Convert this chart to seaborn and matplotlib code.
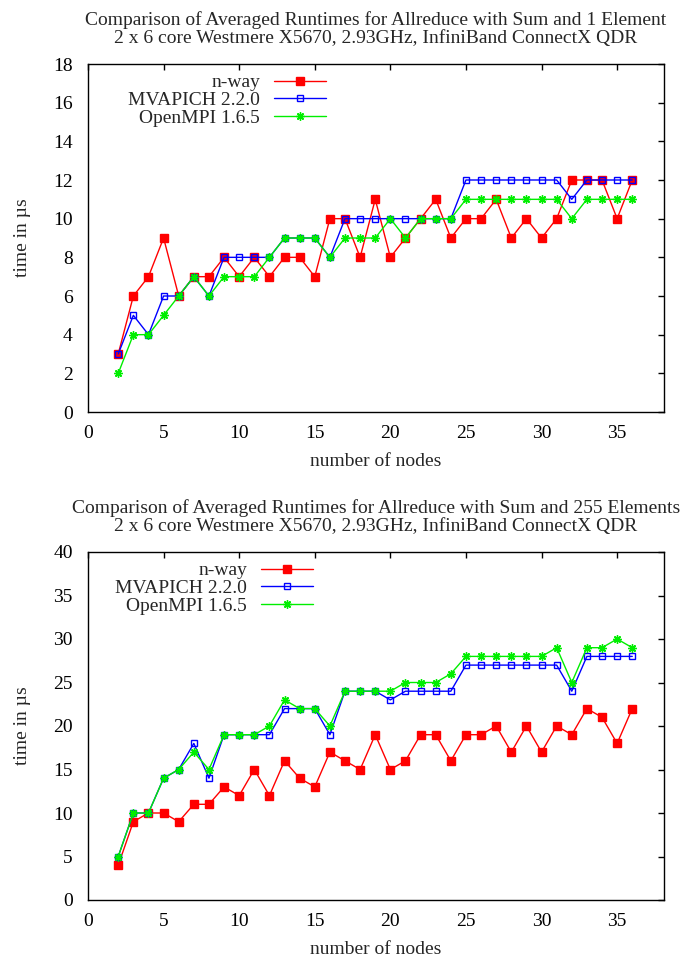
import numpy as np
import pandas as pd
import matplotlib
matplotlib.use("Agg")
import matplotlib.pyplot as plt
import seaborn as sns

nodes = list(range(2, 37))

# 1 element
nway_1 = [3, 6, 7, 9, 6, 7, 7, 8, 7, 8, 7, 8, 8, 7, 10, 10, 8, 11, 8, 9, 10, 11, 9, 10, 10, 11, 9, 10, 9, 10, 12, 12, 12, 10, 12]
mvapich_1 = [3, 5, 4, 6, 6, 7, 6, 8, 8, 8, 8, 9, 9, 9, 8, 10, 10, 10, 10, 10, 10, 10, 10, 12, 12, 12, 12, 12, 12, 12, 11, 12, 12, 12, 12]
openmpi_1 = [2, 4, 4, 5, 6, 7, 6, 7, 7, 7, 8, 9, 9, 9, 8, 9, 9, 9, 10, 9, 10, 10, 10, 11, 11, 11, 11, 11, 11, 11, 10, 11, 11, 11, 11]

# 255 elements
nway_255 = [4, 9, 10, 10, 9, 11, 11, 13, 12, 15, 12, 16, 14, 13, 17, 16, 15, 19, 15, 16, 19, 19, 16, 19, 19, 20, 17, 20, 17, 20, 19, 22, 21, 18, 22]
mvapich_255 = [5, 10, 10, 14, 15, 18, 14, 19, 19, 19, 19, 22, 22, 22, 19, 24, 24, 24, 23, 24, 24, 24, 24, 27, 27, 27, 27, 27, 27, 27, 24, 28, 28, 28, 28]
openmpi_255 = [5, 10, 10, 14, 15, 17, 15, 19, 19, 19, 20, 23, 22, 22, 20, 24, 24, 24, 24, 25, 25, 25, 26, 28, 28, 28, 28, 28, 28, 29, 25, 29, 29, 30, 29]

series_names = ["n-way", "MVAPICH 2.2.0", "OpenMPI 1.6.5"]
titles = [
    "Comparison of Averaged Runtimes for Allreduce with Sum and 1 Element\n2 x 6 core Westmere X5670, 2.93GHz, InfiniBand ConnectX QDR",
    "Comparison of Averaged Runtimes for Allreduce with Sum and 255 Elements\n2 x 6 core Westmere X5670, 2.93GHz, InfiniBand ConnectX QDR",
]
y_ticks_top = list(range(0, 19, 2))
y_ticks_bottom = list(range(0, 41, 5))
x_ticks = list(range(0, 36, 5))

sns.set_theme(style="white")
plt.rcParams["font.family"] = ["Liberation Serif", "DejaVu Serif"]

FS = 14
colors = ["#ff0000", "#0000ff", "#00ee00"]
markers = ["s", "s", (8, 2, 0)]
mfc = ["#ff0000", "none", "#00ee00"]
msz = [5.5, 5.0, 6.0]

fig = plt.figure(figsize=(6.8, 9.56), dpi=100)
ax1 = fig.add_axes([88/680, 1-412/956, 576/680, 348/956])
ax2 = fig.add_axes([88/680, 1-900/956, 576/680, 348/956])

def draw(ax, data, yticks, ylim, title, leg_x):
    df = pd.DataFrame({"nodes": nodes * 3,
                       "time": sum(data, []),
                       "impl": sum([[n] * len(nodes) for n in series_names], [])})
    for i, name in enumerate(series_names):
        sub = df[df["impl"] == name]
        sns.lineplot(data=sub, x="nodes", y="time", ax=ax, color=colors[i],
                     marker=markers[i], markersize=msz[i], markerfacecolor=mfc[i],
                     markeredgecolor=colors[i], markeredgewidth=1.0,
                     linewidth=1.0, label=name, zorder=3 + i)
    ax.set_xlim(0, 38.1)
    ax.set_ylim(*ylim)
    ax.set_xticks(x_ticks)
    ax.set_yticks(yticks)
    ax.tick_params(axis="x", direction="in", length=4.5, width=1, top=True,
                   labelsize=FS, colors="black", pad=9)
    ax.tick_params(axis="y", direction="in", length=4.5, width=1, right=True,
                   labelsize=FS, colors="black", pad=11)
    for s in ax.spines.values():
        s.set_color("black")
        s.set_linewidth(1.0)
    ax.set_xlabel("number of nodes", fontsize=FS, labelpad=8)
    ax.set_ylabel("time in µs", fontsize=FS, labelpad=16)
    ax.set_title(title, fontsize=FS, pad=15, linespacing=1.12)
    ax.legend(loc="upper right", bbox_to_anchor=(leg_x, 1.0), frameon=False,
              markerfirst=False, fontsize=FS, handlelength=2.7,
              handletextpad=0.7, labelspacing=0.0, borderaxespad=0.1)

draw(ax1, [nway_1, mvapich_1, openmpi_1], y_ticks_top, (0, 18), titles[0], (336-88)/576)
draw(ax2, [nway_255, mvapich_255, openmpi_255], y_ticks_bottom, (0, 40), titles[1], (323-88)/576)

fig.savefig("out.png", dpi=100)
